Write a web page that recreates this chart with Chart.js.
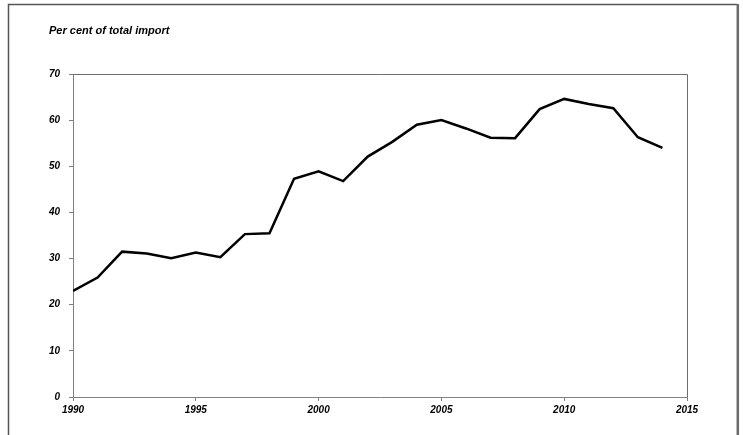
<!DOCTYPE html>
<html>
<head>
<meta charset="utf-8">
<script src="https://cdn.jsdelivr.net/npm/chart.js@4/dist/chart.umd.min.js"></script>
<style>
html,body{margin:0;padding:0;background:#fff;}
#wrap{position:relative;width:743px;height:435px;}
canvas{display:block;}
</style>
</head>
<body>
<div id="wrap"><canvas id="c" width="743" height="435"></canvas></div>
<script>
const years = [1990,1991,1992,1993,1994,1995,1996,1997,1998,1999,2000,2001,2002,2003,2004,2005,2006,2007,2008,2009,2010,2011,2012,2013,2014];
const shares = [23.0,25.9,31.5,31.1,30.1,31.3,30.3,35.3,35.5,47.3,48.9,46.8,52.1,55.3,59.0,60.0,58.2,56.2,56.1,62.4,64.6,63.5,62.6,56.3,54.0];
const yTicks = [0,10,20,30,40,50,60,70];
const xTicks = [1990,1995,2000,2005,2010,2015];
const titleText = 'Per cent of total import';

const FONT = 'Liberation Sans, Arial, sans-serif';
const AXIS = '#808080';

const framePlugin = {
  id: 'frame',
  afterDraw(chart) {
    const ctx = chart.ctx;
    const a = chart.chartArea;
    ctx.save();
    // plot box top and right
    ctx.strokeStyle = '#6e6e6e';
    ctx.lineWidth = 1;
    ctx.beginPath();
    ctx.moveTo(a.left, Math.round(a.top) + 0.5);
    ctx.lineTo(Math.round(a.right) + 0.5, Math.round(a.top) + 0.5);
    ctx.lineTo(Math.round(a.right) + 0.5, a.bottom);
    ctx.stroke();
    // outer frame
    ctx.strokeStyle = '#555';
    ctx.lineWidth = 1.5;
    ctx.beginPath();
    ctx.moveTo(8.5, 435);
    ctx.lineTo(8.5, 4.5);
    ctx.lineTo(737, 4.5);
    ctx.stroke();
    ctx.strokeStyle = '#6a6a6a';
    ctx.lineWidth = 2.5;
    ctx.beginPath();
    ctx.moveTo(737.8, 4);
    ctx.lineTo(737.8, 435);
    ctx.stroke();
    // title
    ctx.fillStyle = '#000';
    ctx.font = 'italic bold 11px ' + FONT;
    ctx.textBaseline = 'alphabetic';
    ctx.textAlign = 'left';
    ctx.fillText(titleText, 49, 34);
    ctx.restore();
  }
};

new Chart(document.getElementById('c'), {
  type: 'line',
  data: {
    datasets: [{
      data: years.map((y, i) => ({x: y, y: shares[i]})),
      borderColor: '#000',
      borderWidth: 2.5,
      pointRadius: 0,
      tension: 0,
      fill: false
    }]
  },
  options: {
    responsive: false,
    animation: false,
    events: [],
    layout: {padding: {left: 0, right: 56, top: 74, bottom: 0}},
    plugins: {legend: {display: false}, tooltip: {enabled: false}, title: {display: false}},
    scales: {
      x: {
        type: 'linear',
        min: 1990, max: 2015,
        afterBuildTicks: s => { s.ticks = xTicks.map(v => ({value: v})); },
        afterFit: s => { s.height = 38; },
        border: {display: true, color: AXIS, width: 1},
        grid: {display: true, drawOnChartArea: false, drawTicks: true, tickLength: 4, color: AXIS},
        ticks: {
          color: '#000', padding: 3, maxRotation: 0, autoSkip: false,
          font: {family: FONT, size: 10, style: 'italic', weight: 'bold'},
          callback: v => String(v)
        }
      },
      y: {
        min: 0, max: 70,
        afterBuildTicks: s => { s.ticks = yTicks.map(v => ({value: v})); },
        afterFit: s => { s.width = 73; },
        border: {display: true, color: AXIS, width: 1},
        grid: {display: true, drawOnChartArea: false, drawTicks: true, tickLength: 4, color: AXIS},
        ticks: {
          color: '#000', padding: 9,
          font: {family: FONT, size: 10, style: 'italic', weight: 'bold'},
          callback: v => String(v)
        }
      }
    }
  },
  plugins: [framePlugin]
});
</script>
</body>
</html>
